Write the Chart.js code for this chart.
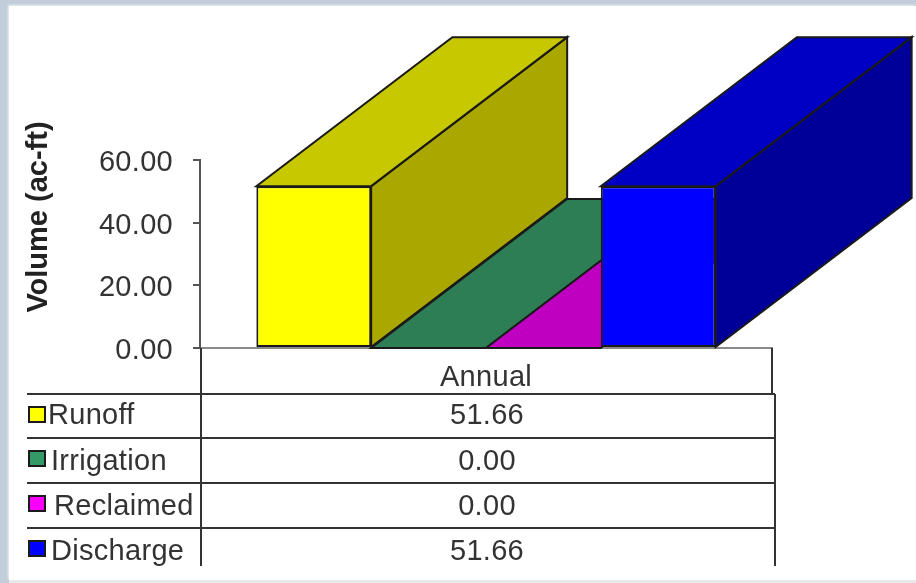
<!DOCTYPE html>
<html>
<head>
<meta charset="utf-8">
<title>Annual Volume</title>
<script src="https://cdn.jsdelivr.net/npm/chart.js@4"></script>
<style>
  html, body { margin: 0; height: 100%; overflow: hidden; background: #c1cdd9; }
  #panel { position: absolute; left: 9px; top: 6px; right: 0; bottom: 3px; background: #fff; box-shadow: -1px -1px 2px #eef1f4; }
  #foot { position: absolute; left: 9px; right: 0; bottom: 0; height: 3px; background: #e6e8ea; }
  canvas { position: absolute; left: 0; top: 0; }
</style>
</head>
<body>
<div id="panel"></div>
<div id="foot"></div>
<canvas id="myChart" width="916" height="583"></canvas>
<script>
const categories = ['Annual'];
const seriesNames = ['Runoff', 'Irrigation', 'Reclaimed', 'Discharge'];
const seriesValues = [51.66, 0.00, 0.00, 51.66];
const seriesColors = ['#ffff00', '#339966', '#ff00ff', '#0000ff'];
const topColors = ['#c8c800', '#2d7d55', '#c000c0', '#0000c4'];
const sideColors = ['#aaa800', '#266b49', '#990099', '#000098'];
const yTicks = [0, 20, 40, 60];
const yTitle = 'Volume (ac-ft)';

// legend column of the data table, one entry per row
const nameLeft = [48, 51, 54, 51];
const rowLines = [394, 438, 483, 528];
const rowCentres = [416, 462, 507, 552];
const swatchTops = [407, 451, 496, 541];

const depthX = 196;
const depthY = -149;
const textColor = '#333';
const lineColor = '#333';
const edgeColor = '#1a1a1a';

Chart.defaults.font.family = '"Liberation Sans", Arial, sans-serif';

function face(ctx, pts, fill) {
  ctx.beginPath();
  pts.forEach((p, i) => i ? ctx.lineTo(p[0], p[1]) : ctx.moveTo(p[0], p[1]));
  ctx.closePath();
  ctx.fillStyle = fill;
  ctx.fill();
  ctx.lineWidth = 2;
  ctx.strokeStyle = edgeColor;
  ctx.stroke();
}

// side and top faces behind each bar front
const extrude = {
  id: 'extrude',
  beforeDatasetsDraw(chart) {
    const ctx = chart.ctx;
    ctx.save();
    chart.data.datasets.forEach((ds, i) => {
      const bar = chart.getDatasetMeta(i).data[0];
      const left = bar.x - bar.width / 2;
      const right = bar.x + bar.width / 2;
      const top = bar.y;
      const base = bar.base;
      if (base - top > 0.5) {
        face(ctx, [[right, top], [right + depthX, top + depthY], [right + depthX, base + depthY], [right, base]], sideColors[i]);
      }
      face(ctx, [[left, top], [right, top], [right + depthX, top + depthY], [left + depthX, top + depthY]], topColors[i]);
    });
    ctx.restore();
  }
};

// rotated axis title and the data table under the plot
const dataTable = {
  id: 'dataTable',
  beforeDraw(chart) {
    chart.ctx.letterSpacing = '0.3px';
  },
  afterDraw(chart) {
    const ctx = chart.ctx;
    const area = chart.chartArea;
    const bottom = 566;
    ctx.save();

    ctx.strokeStyle = lineColor;
    ctx.lineWidth = 2;
    ctx.beginPath();
    ctx.moveTo(area.left + 1, area.bottom);
    ctx.lineTo(area.left + 1, bottom);
    ctx.moveTo(area.right, area.bottom);
    ctx.lineTo(area.right, rowLines[0]);
    ctx.moveTo(area.right + 3, rowLines[0]);
    ctx.lineTo(area.right + 3, bottom);
    rowLines.forEach(y => {
      ctx.moveTo(27, y);
      ctx.lineTo(area.right + 3, y);
    });
    ctx.stroke();

    ctx.textBaseline = 'middle';
    ctx.font = '29px "Liberation Sans", Arial, sans-serif';
    seriesNames.forEach((name, i) => {
      ctx.fillStyle = seriesColors[i];
      ctx.strokeStyle = edgeColor;
      ctx.lineWidth = 2;
      ctx.fillRect(29, swatchTops[i], 16, 15);
      ctx.strokeRect(29, swatchTops[i], 16, 15);

      ctx.fillStyle = textColor;
      ctx.textAlign = 'left';
      ctx.fillText(name, nameLeft[i], rowCentres[i]);
      ctx.textAlign = 'center';
      ctx.fillText(seriesValues[i].toFixed(2), chart.scales.x.getPixelForValue(0) + 1, rowCentres[i]);
    });

    ctx.letterSpacing = '0px';
    ctx.translate(39, 217);
    ctx.rotate(-Math.PI / 2);
    ctx.font = 'bold 29px "Liberation Sans", Arial, sans-serif';
    ctx.fillStyle = '#222';
    ctx.textAlign = 'center';
    ctx.fillText(yTitle, 0, 0);
    ctx.restore();
  }
};

new Chart(document.getElementById('myChart'), {
  type: 'bar',
  data: {
    labels: categories,
    datasets: seriesNames.map((name, i) => ({
      label: name,
      data: [seriesValues[i]],
      backgroundColor: seriesColors[i],
      borderColor: edgeColor,
      borderWidth: 2,
      borderSkipped: false,
      barPercentage: 1,
      categoryPercentage: 0.803
    }))
  },
  options: {
    responsive: false,
    animation: false,
    layout: { padding: { top: 160, right: 144, bottom: 189, left: 0 } },
    plugins: { legend: { display: false }, tooltip: { enabled: false } },
    scales: {
      x: {
        afterFit: s => { s.height = 46; },
        border: { color: '#8a8a8a', width: 2 },
        grid: { display: false },
        ticks: { color: textColor, font: { size: 29 }, padding: 5, maxRotation: 0 }
      },
      y: {
        min: 0,
        max: 60,
        afterFit: s => { s.width = 200; },
        afterBuildTicks: s => { s.ticks = yTicks.map(value => ({ value })); },
        border: { color: '#555', width: 2 },
        grid: { drawOnChartArea: false, color: '#555', lineWidth: 2, tickLength: 7 },
        ticks: { color: textColor, font: { size: 29 }, padding: 20, labelOffset: 3, callback: v => v.toFixed(2) }
      }
    }
  },
  plugins: [extrude, dataTable]
});
</script>
</body>
</html>
